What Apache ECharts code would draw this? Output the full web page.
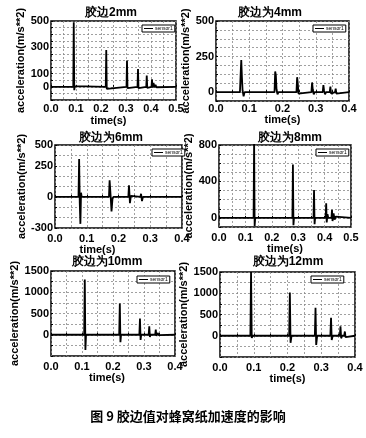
<!DOCTYPE html>
<html><head><meta charset="utf-8">
<script src="https://cdn.jsdelivr.net/npm/echarts@6/dist/echarts.min.js"></script>
<style>html,body{margin:0;padding:0;background:#fff}#c{width:366px;height:438px}</style>
</head><body><div id="c"></div>
<script>
// ---------- data ----------
const titles = ['胶边2mm', '胶边为4mm', '胶边为6mm', '胶边为8mm', '胶边为10mm', '胶边为12mm'];
const caption = '图 9 胶边值对蜂窝纸加速度的影响';
const xName = 'time(s)';
const yName = 'acceleration(m/s**2)';
const seriesName = 'sensor1';

const t2mm = [0, 0.089, 0.091, 0.093, 0.095, 0.097, 0.219, 0.221, 0.223, 0.226, 0.302, 0.304, 0.306, 0.309, 0.346, 0.348, 0.350, 0.353, 0.381, 0.383, 0.385, 0.388, 0.402, 0.404, 0.406, 0.410, 0.414, 0.418, 0.422, 0.426, 0.5];
const a2mm = [0, 0, 490, -25, 5, 0, 0, 280, -15, 0, 0, 200, -10, 0, 0, 135, -10, 0, 0, 85, -8, 0, 0, 58, -5, 30, -5, 15, -3, 0, 0];

const t4mm = [0, 0.072, 0.074, 0.076, 0.078, 0.080, 0.083, 0.086, 0.176, 0.178, 0.180, 0.182, 0.185, 0.188, 0.242, 0.244, 0.246, 0.248, 0.251, 0.287, 0.289, 0.291, 0.294, 0.297, 0.321, 0.323, 0.325, 0.328, 0.331, 0.342, 0.344, 0.346, 0.349, 0.358, 0.360, 0.362, 0.365, 0.4];
const a4mm = [0, 0, 120, 225, 100, 10, -30, 0, 0, 145, 120, 20, -15, 0, 0, 105, 60, -10, 0, 0, 68, 20, -15, 0, 0, 50, 10, -15, 0, 0, 38, -10, 0, 0, 25, -10, 0, 0];

const t6mm = [0, 0.074, 0.076, 0.078, 0.080, 0.082, 0.084, 0.170, 0.172, 0.175, 0.178, 0.181, 0.184, 0.231, 0.233, 0.236, 0.239, 0.242, 0.269, 0.271, 0.274, 0.277, 0.308, 0.311, 0.314, 0.318, 0.4];
const a6mm = [0, 0, 365, -60, -260, 40, 0, 0, 160, 20, -140, -20, 0, 0, 112, -60, 10, 0, 0, 30, -40, 0, 0, 12, -8, 0, 0];

const t8mm = [0, 0.131, 0.133, 0.135, 0.137, 0.278, 0.280, 0.282, 0.284, 0.358, 0.360, 0.362, 0.364, 0.404, 0.406, 0.408, 0.411, 0.414, 0.426, 0.428, 0.430, 0.434, 0.438, 0.442, 0.446, 0.5];
const a8mm = [0, 0, 850, -90, 0, 0, 586, -80, 0, 0, 305, -70, 0, 0, 161, -50, 40, 0, 0, 90, -35, 50, -20, 15, 0, 0];

const t10mm = [0, 0.107, 0.109, 0.111, 0.113, 0.220, 0.222, 0.224, 0.226, 0.285, 0.287, 0.289, 0.291, 0.315, 0.317, 0.319, 0.321, 0.336, 0.338, 0.340, 0.344, 0.348, 0.352, 0.4];
const a10mm = [0, 0, 1300, -360, 0, 0, 735, -175, 0, 0, 380, -120, 0, 0, 200, -50, 0, 0, 120, -30, 40, -10, 0, 0];

const t12mm = [0, 0.090, 0.092, 0.094, 0.097, 0.205, 0.207, 0.209, 0.212, 0.281, 0.283, 0.285, 0.288, 0.327, 0.329, 0.331, 0.334, 0.355, 0.357, 0.359, 0.362, 0.368, 0.370, 0.372, 0.376, 0.4];
const a12mm = [0, 0, 1500, -50, 0, 0, 1020, -165, 0, 0, 660, -215, 0, 0, 420, -100, 0, 0, 220, -60, 0, 0, 100, -30, 0, 0];

const xMax = [0.5, 0.4, 0.4, 0.5, 0.4, 0.4];
const yMin = [-100, -62.5, -300, -100, -500, -500];
const yMax = [500, 500, 500, 800, 1500, 1500];
const yStep = [50, 62.5, 100, 100, 250, 250];
const yTickValues = [[0, 100, 300, 500], [0, 250, 500], [-300, 0, 300, 500], [0, 400, 800], [0, 500, 1000, 1500], [0, 500, 1000, 1500]];
const yTickTexts = [['0', '100', '300', '500'], ['0', '250', '500'], ['-300', '0', '250', '500'], ['0', '400', '800'], ['0', '500', '1000', '1500'], ['0', '500', '1000', '1500']];
const times = [t2mm, t4mm, t6mm, t8mm, t10mm, t12mm];
const accels = [a2mm, a4mm, a6mm, a8mm, a10mm, a12mm];

// ---------- layout ----------
const boxes = [[51, 21, 125, 79], [216, 21, 133, 80], [55, 145, 127, 83], [219, 145, 132, 82], [51, 271, 124, 85], [220, 272, 135, 85]];
const titlePos = [[111, 7], [270, 7], [111, 132], [290, 132], [107, 256], [288, 256]];
const legendPos = [[142, 25], [313, 25], [152, 149], [316, 149], [137, 276], [311, 276]];
const xNameGap = [15, 12, 11, 12, 13, 14];
const xNameShift = [10, 0, 42, 0, 12, 0];
const xLabelMargin = [3, 2, 5, 5, 5, 5];
const yNameGap = [21, 23, 24, 24, 22, 23];

const font = 'Liberation Sans, Arial, sans-serif';
const grid = [], xAxis = [], yAxis = [], series = [], title = [], legend = [];
for (let i = 0; i < 6; i++) {
  const b = boxes[i];
  grid.push({left: b[0], top: b[1], width: b[2], height: b[3], show: true, borderColor: '#000', borderWidth: 1.5, backgroundColor: 'transparent', containLabel: false});
  xAxis.push({
    type: 'value', gridIndex: i, min: 0, max: xMax[i], interval: 0.05,
    name: xName, nameLocation: 'middle', nameGap: xNameGap[i],
    nameTextStyle: {fontFamily: font, fontSize: 11, fontWeight: 'bold', color: '#000', padding: [0, xNameShift[i], 0, 0]},
    axisLine: {show: false},
    axisTick: {show: true, inside: true, length: 2, lineStyle: {color: '#000'}},
    axisLabel: {margin: xLabelMargin[i], fontFamily: font, fontSize: 11, fontWeight: 'bold', color: '#000',
      formatter: v => Math.abs(v * 10 - Math.round(v * 10)) < 1e-6 ? v.toFixed(1) : ''},
    splitLine: {show: true, lineStyle: {color: '#888', type: [2, 2], width: 0.8}}
  });
  const tv = yTickValues[i], tt = yTickTexts[i];
  yAxis.push({
    type: 'value', gridIndex: i, min: yMin[i], max: yMax[i], interval: yStep[i],
    name: yName, nameLocation: 'middle', nameGap: yNameGap[i],
    nameTextStyle: {fontFamily: font, fontSize: 11, fontWeight: 'bold', color: '#000'},
    axisLine: {show: false},
    axisTick: {show: true, inside: true, length: 2, lineStyle: {color: '#000'}},
    axisLabel: {margin: 2, fontFamily: font, fontSize: 11, fontWeight: 'bold', color: '#000',
      formatter: v => { const k = tv.findIndex(x => Math.abs(x - v) < 1e-6); return k >= 0 ? tt[k] : ''; }},
    splitLine: {show: true, lineStyle: {color: '#888', type: [2, 2], width: 0.8}}
  });
  series.push({
    type: 'line', name: seriesName, xAxisIndex: i, yAxisIndex: i, showSymbol: false, symbol: 'none',
    clip: true, animation: false,
    lineStyle: {color: '#000', width: 1.8}, itemStyle: {color: '#000'},
    data: times[i].map((t, j) => [t, accels[i][j]])
  });
  title.push({text: titles[i], left: titlePos[i][0], top: titlePos[i][1], textAlign: 'center', padding: 0,
    textStyle: {fontFamily: font, fontSize: 12, fontWeight: 'bold', color: '#000'}});
  legend.push({data: [seriesName], left: legendPos[i][0], top: legendPos[i][1], orient: 'vertical',
    backgroundColor: '#fff', borderColor: '#000', borderWidth: 1, padding: [1, 2], itemWidth: 9, itemHeight: 1, itemGap: 1,
    icon: 'rect', selectedMode: false,
    textStyle: {fontFamily: font, fontSize: 5, color: '#000', padding: [0, 0, 0, -3]}});
}
title.push({text: caption, left: 188, top: 410, textAlign: 'center', padding: 0,
  textStyle: {fontFamily: 'Noto Sans CJK SC, sans-serif', fontSize: 13, fontWeight: 'bold', color: '#000'}});

const chart = echarts.init(document.getElementById('c'), null, {renderer: 'canvas'});
chart.setOption({animation: false, backgroundColor: '#fff', title, grid, xAxis, yAxis, series, legend});
</script>
</body></html>
